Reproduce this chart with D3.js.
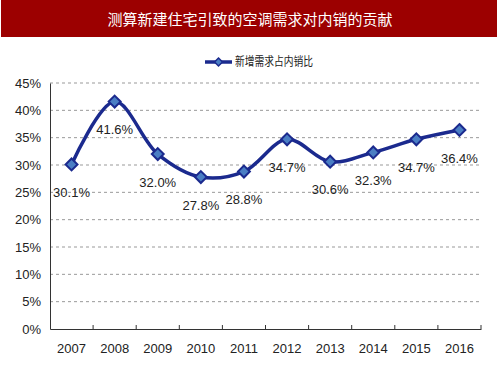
<!DOCTYPE html>
<html lang="zh">
<head>
<meta charset="utf-8">
<script src="https://d3js.org/d3.v7.min.js"></script>
<style>
  body { margin: 0; background: #fff; }
  svg { display: block; }
  .num { font-family: "Liberation Sans Narrow", "Arial Narrow", "Liberation Sans", sans-serif; font-size: 13px; fill: #222; }
  .cjk { font-family: "Noto Sans CJK SC", sans-serif; }
</style>
</head>
<body>
<svg id="chart" width="500" height="375"></svg>
<script>
  const years = ["2007", "2008", "2009", "2010", "2011", "2012", "2013", "2014", "2015", "2016"];
  const share = [30.1, 41.6, 32.0, 27.8, 28.8, 34.7, 30.6, 32.3, 34.7, 36.4];
  const yTicks = [0, 5, 10, 15, 20, 25, 30, 35, 40, 45];
  const title = "测算新建住宅引致的空调需求对内销的贡献";
  const seriesName = "新增需求占内销比";

  const svg = d3.select("#chart");
  const plotLeft = 50, plotRight = 481, plotTop = 83, plotBottom = 329;
  const navy = "#1b2a8e";

  // title bar
  svg.append("rect").attr("x", 1).attr("y", 0).attr("width", 496).attr("height", 37).attr("fill", "#9c0000");
  svg.append("text").attr("class", "cjk")
    .attr("x", 250).attr("y", 20).attr("dy", "0.35em")
    .attr("text-anchor", "middle").attr("fill", "#fff").attr("font-size", 15)
    .text(title);

  const x = d3.scaleBand().domain(years).range([plotLeft, plotRight]);
  const y = d3.scaleLinear().domain([0, 45]).range([plotBottom, plotTop]);

  // gridlines
  svg.append("g").selectAll("line")
    .data(yTicks.filter(d => d > 0))
    .join("line")
    .attr("x1", plotLeft).attr("x2", plotRight)
    .attr("y1", d => y(d)).attr("y2", d => y(d))
    .attr("stroke", "#999").attr("stroke-dasharray", "3,3");

  // y axis
  const yAxis = svg.append("g").attr("transform", `translate(${plotLeft},0)`)
    .call(d3.axisLeft(y).tickValues(yTicks).tickFormat(d => d + "%").tickSize(0).tickPadding(9));
  yAxis.select(".domain").attr("stroke", "#333");
  yAxis.selectAll("text").attr("class", "num").attr("fill", null);

  // x axis with inside ticks at band edges
  const xAxis = svg.append("g").attr("transform", `translate(0,${plotBottom})`)
    .call(d3.axisBottom(x).tickSize(0).tickPadding(15));
  xAxis.select(".domain").attr("stroke", "#333");
  xAxis.selectAll("text").attr("class", "num").attr("fill", null);
  const edges = years.map(d => x(d)).concat([plotRight]).slice(1);
  svg.append("g").selectAll("line").data(edges).join("line")
    .attr("x1", d => d).attr("x2", d => d)
    .attr("y1", plotBottom).attr("y2", plotBottom - 4)
    .attr("stroke", "#333");

  const cx = (d, i) => x(years[i]) + x.bandwidth() / 2;

  // line
  const line = d3.line().x(cx).y(d => y(d)).curve(d3.curveCatmullRom.alpha(0.5));
  svg.append("path").datum(share)
    .attr("d", line).attr("fill", "none")
    .attr("stroke", navy).attr("stroke-width", 3.5);

  // diamond markers
  const diamond = d3.symbol().type(d3.symbolDiamond2).size(90);
  svg.append("g").selectAll("path").data(share).join("path")
    .attr("d", diamond)
    .attr("transform", (d, i) => `translate(${cx(d, i)},${y(d)})`)
    .attr("fill", "#4a7ec4").attr("stroke", navy).attr("stroke-width", 2);

  // data labels
  svg.append("g").selectAll("text").data(share).join("text")
    .attr("class", "num")
    .attr("x", cx).attr("y", d => y(d) + 28).attr("dy", "0.35em")
    .attr("text-anchor", "middle")
    .text(d => d.toFixed(1) + "%");

  // legend
  const lg = svg.append("g");
  lg.append("line").attr("x1", 205).attr("x2", 232).attr("y1", 62).attr("y2", 62)
    .attr("stroke", navy).attr("stroke-width", 3.5);
  lg.append("path").attr("d", d3.symbol().type(d3.symbolDiamond2).size(40))
    .attr("transform", "translate(218.5,62)")
    .attr("fill", "#4a7ec4").attr("stroke", navy).attr("stroke-width", 1.5);
  lg.append("text").attr("class", "cjk")
    .attr("x", 235).attr("y", 62).attr("dy", "0.35em")
    .attr("font-size", 12).attr("fill", "#222")
    .attr("textLength", 78).attr("lengthAdjust", "spacingAndGlyphs")
    .text(seriesName);
</script>
</body>
</html>
